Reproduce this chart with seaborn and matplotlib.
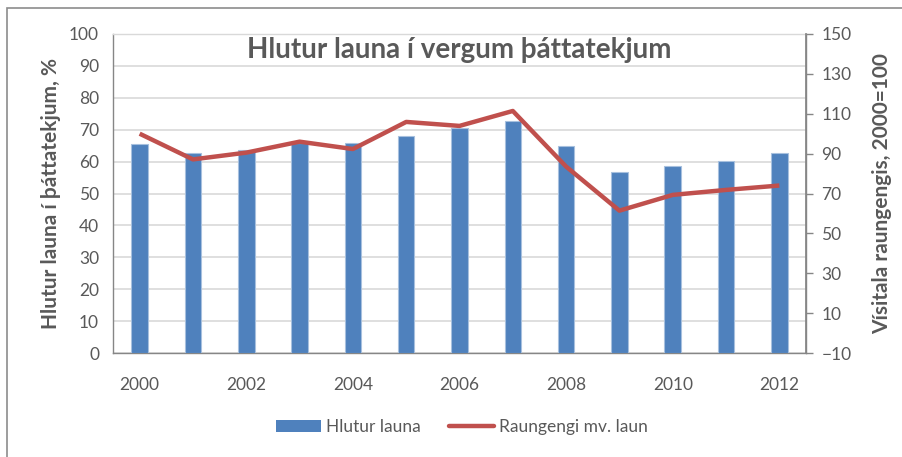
import numpy as np
import pandas as pd
import matplotlib
matplotlib.use("Agg")
import matplotlib.pyplot as plt
from matplotlib.patches import Rectangle
from matplotlib.lines import Line2D
import seaborn as sns

# Data
years = [2000, 2001, 2002, 2003, 2004, 2005, 2006, 2007, 2008, 2009, 2010, 2011, 2012]
wage_share = [65.6, 62.7, 63.6, 65.8, 65.8, 68.1, 70.6, 72.6, 64.8, 56.7, 58.6, 60.1, 62.6]
real_exchange = [100.0, 87.1, 90.5, 96.0, 92.3, 105.9, 103.9, 111.4, 83.5, 61.4, 69.3, 71.8, 74.0]
year_ticks = [2000, 2002, 2004, 2006, 2008, 2010, 2012]
left_ticks = list(range(0, 101, 10))
right_ticks = list(range(-10, 151, 20))

title = "Hlutur launa í vergum þáttatekjum"
left_label = "Hlutur launa í þáttatekjum, %"
right_label = "Vísitala raungengis, 2000=100"
bar_name = "Hlutur launa"
line_name = "Raungengi mv. laun"

df = pd.DataFrame({"year": years, "share": wage_share, "rer": real_exchange})

sns.set_theme(style="white")
plt.rcParams["font.family"] = ["Lato", "DejaVu Sans"]

BLUE = "#4F81BD"
RED = "#C0504D"
GREY_TXT = "#595959"
AXIS = "#868686"
GRID = "#D9D9D9"

fig = plt.figure(figsize=(9.03, 4.57), dpi=100)
fig.patch.set_facecolor("white")
ax = fig.add_axes([113 / 903, 1 - 353 / 457, (806 - 113) / 903, (353 - 34) / 457])

# outer chart frame
fig.patches.append(Rectangle((7 / 903, -0.1), 1.2, 1 - 8 / 457 + 0.1,
                             transform=fig.transFigure, fill=False,
                             edgecolor="#8C8C8C", linewidth=1.2, zorder=0))

sns.barplot(data=df, x="year", y="share", native_scale=True, width=0.31,
            color=BLUE, saturation=1, edgecolor="#A7C0DE", linewidth=0.8,
            ax=ax, zorder=3)
ax.set_xlim(1999.5, 2012.5)
ax.set_ylim(0, 100)
ax.set_yticks(left_ticks)
ax.set_xticks(year_ticks)
ax.set_xticklabels([str(y) for y in year_ticks])
ax.yaxis.grid(True, color=GRID, linewidth=1.2, zorder=0)
ax.set_axisbelow(True)
for s in ["left", "right", "bottom", "top"]:
    ax.spines[s].set_color(AXIS)
    ax.spines[s].set_linewidth(1.0)
ax.spines["top"].set_color(GRID)
ax.tick_params(axis="both", length=0, labelsize=12.5, colors=GREY_TXT)
ax.tick_params(axis="x", pad=17)
ax.tick_params(axis="y", pad=10)
ax.set_xlabel("")
ax.set_ylabel(left_label, fontsize=15, fontweight="bold", color=GREY_TXT, labelpad=6)

ax2 = ax.twinx()
sns.lineplot(data=df, x="year", y="rer", color=RED, linewidth=3.2, ax=ax2,
             solid_capstyle="butt", zorder=4)
ax2.set_ylim(-10, 150)
ax2.set_yticks(right_ticks)
ax2.set_xlim(1999.5, 2012.5)
for s in ["left", "top", "bottom"]:
    ax2.spines[s].set_visible(False)
ax2.spines["right"].set_color(AXIS)
ax2.tick_params(axis="y", length=5, width=1, color=AXIS, labelsize=12.5,
                colors=GREY_TXT, pad=6)
ax2.tick_params(axis="y", colors=AXIS, labelcolor=GREY_TXT)
ax2.set_ylabel(right_label, fontsize=15, fontweight="bold", color=GREY_TXT,
               rotation=90, labelpad=15)
ax2.set_xlabel("")

ax.text(0.5, 0.99, title, transform=ax.transAxes, ha="center", va="top",
        fontsize=20, fontweight="bold", color=GREY_TXT)

handles = [Rectangle((0, 0), 1, 1, facecolor=BLUE, edgecolor="none"),
           Line2D([0], [0], color=RED, linewidth=3.2, solid_capstyle="round")]
fig.legend(handles, [bar_name, line_name], loc="center", ncol=2,
           bbox_to_anchor=(462 / 903, 1 - 427 / 457), frameon=False,
           fontsize=12.5, labelcolor=GREY_TXT, handlelength=2.6,
           handletextpad=0.3, columnspacing=1.6)

fig.savefig("out.png", dpi=100, facecolor="white")
